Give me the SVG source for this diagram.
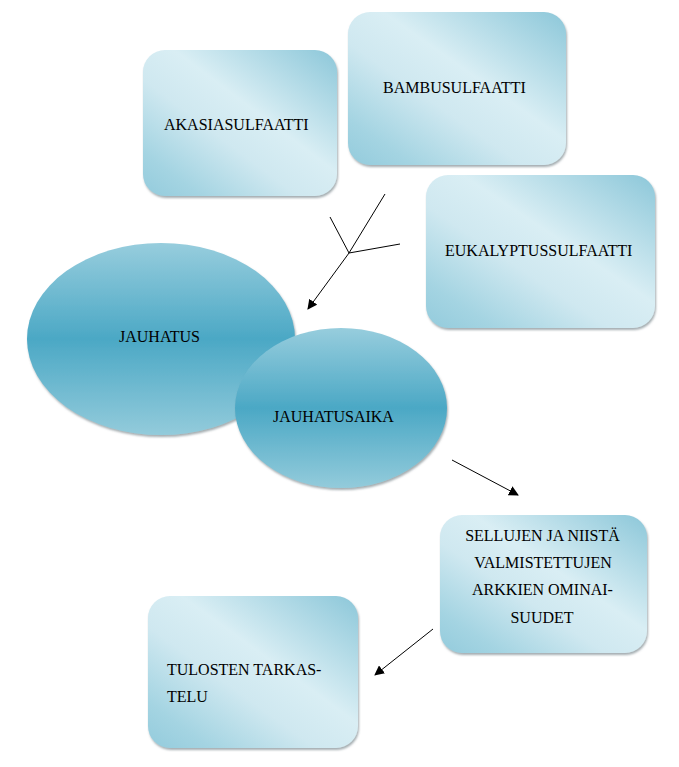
<svg xmlns="http://www.w3.org/2000/svg" width="679" height="767" viewBox="0 0 679 767">
<defs>
<linearGradient id="boxg" x1="1" y1="0" x2="0" y2="1">
<stop offset="0" stop-color="#8cc7d9"/>
<stop offset="0.42" stop-color="#d9eef4"/>
<stop offset="0.6" stop-color="#cfe8f0"/>
<stop offset="0.85" stop-color="#a4d4e2"/>
<stop offset="1" stop-color="#93cbdc"/>
</linearGradient>
<linearGradient id="ellg" x1="0" y1="0" x2="0" y2="1">
<stop offset="0" stop-color="#97cddd"/>
<stop offset="0.5" stop-color="#4ba8c5"/>
<stop offset="1" stop-color="#93cbdb"/>
</linearGradient>
<filter id="sh" x="-10%" y="-10%" width="120%" height="125%">
<feDropShadow dx="1" dy="2" stdDeviation="1.2" flood-color="#5a6a70" flood-opacity="0.55"/>
</filter>
<marker id="ah" viewBox="0 0 10 10" refX="9" refY="5" markerWidth="10" markerHeight="10" markerUnits="userSpaceOnUse" orient="auto">
<path d="M0,0 L10,5 L0,10 z" fill="#000"/>
</marker>
<style>
.box{fill:url(#boxg);filter:url(#sh);}
.ell{fill:url(#ellg);filter:url(#sh);}
.t{font-family:'Liberation Serif','DejaVu Serif',serif;font-size:16px;fill:#000;}
.c{text-anchor:middle;}
.ln{stroke:#000;stroke-width:1;fill:none;}
</style>
</defs>
<g id="akasia">
<rect class="box" x="143" y="50" width="194" height="146" rx="22"/>
<text class="t" x="164" y="130">AKASIASULFAATTI</text>
</g>
<g id="bambu">
<rect class="box" x="348" y="12" width="218" height="153" rx="22"/>
<text class="t" x="383" y="93">BAMBUSULFAATTI</text>
</g>
<g id="eukalyptus">
<rect class="box" x="426" y="175" width="229" height="153" rx="22"/>
<text class="t" x="445" y="256">EUKALYPTUSSULFAATTI</text>
</g>
<g id="jauhatus">
<ellipse class="ell" cx="161" cy="339" rx="134" ry="96"/>
<text class="t" x="119" y="342">JAUHATUS</text>
</g>
<g id="jauhatusaika">
<ellipse class="ell" cx="341" cy="408" rx="106" ry="80"/>
<text class="t" x="273" y="422">JAUHATUSAIKA</text>
</g>
<g id="sellujen">
<rect class="box" x="440" y="515" width="207" height="138" rx="22"/>
<text class="t c" x="542.5" y="541">SELLUJEN JA NIISTÄ</text>
<text class="t c" x="543" y="568">VALMISTETTUJEN</text>
<text class="t c" x="542.5" y="595">ARKKIEN OMINAI-</text>
<text class="t c" x="542" y="623">SUUDET</text>
</g>
<g id="tulosten">
<rect class="box" x="148" y="596" width="210" height="152" rx="22"/>
<text class="t" x="167" y="675">TULOSTEN TARKAS-</text>
<text class="t" x="167" y="702">TELU</text>
</g>
<g id="connectors">
<line class="ln" x1="385" y1="194" x2="349" y2="253"/>
<line class="ln" x1="330" y1="217" x2="349" y2="253"/>
<line class="ln" x1="400" y1="244" x2="349" y2="253"/>
<line class="ln" x1="349" y1="253" x2="308" y2="309" marker-end="url(#ah)"/>
<line class="ln" x1="452" y1="460" x2="518" y2="495" marker-end="url(#ah)"/>
<line class="ln" x1="433" y1="629" x2="375" y2="675" marker-end="url(#ah)"/>
</g>
</svg>
